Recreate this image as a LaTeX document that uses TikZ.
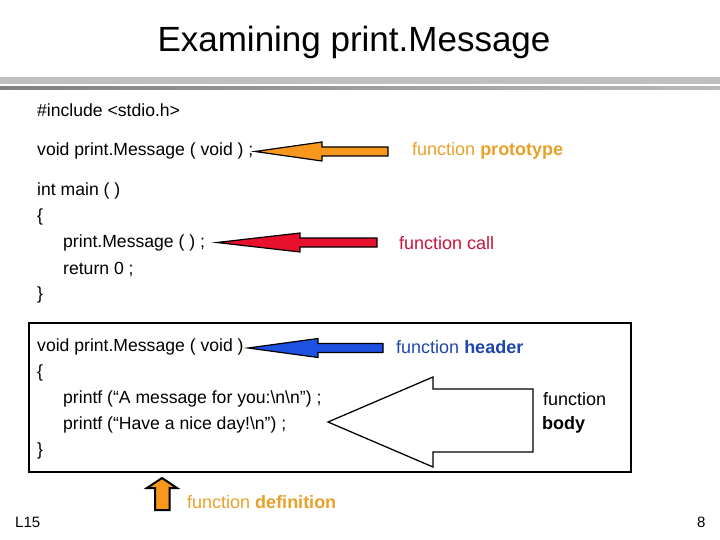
\documentclass[tikz,border=0pt]{standalone}
\usepackage{fontspec}
\setmainfont{Liberation Sans}
\definecolor{protoorange}{RGB}{247,152,29}
\definecolor{prototext}{RGB}{232,160,40}
\definecolor{callred}{RGB}{232,17,45}
\definecolor{calltext}{RGB}{200,20,60}
\definecolor{headblue}{RGB}{30,80,225}
\definecolor{headtext}{RGB}{30,70,170}
\tikzset{
	code/.style={anchor=west, inner sep=0pt, font=\fontsize{17.6}{21}\selectfont},
	note/.style={anchor=west, inner sep=0pt, font=\fontsize{18}{21}\selectfont},
	small/.style={anchor=west, inner sep=0pt, font=\fontsize{15}{18}\selectfont},
}
\begin{document}
\begin{tikzpicture}[x=1pt,y=-1pt]
		\useasboundingbox (0,0) rectangle (720,540);
		\node[anchor=center, inner sep=0pt, font=\fontsize{35}{42}\selectfont] (title) at (354,42) {Examining print.Message};
		\shade[left color=gray!50, middle color=gray!15, right color=gray!50] (0,78) rectangle (720,84);
		\shade[left color=gray!100, middle color=gray!30, right color=gray!55] (0,87) rectangle (720,90);
		
		% code lines
		\foreach \y/\x/\t [count=\i] in {110/37/{\#include <stdio.h>},
			151/37/{void print.Message ( void ) ;},
			191/37/{int main ( )}, 217/37/{\{}, 243/63/{print.Message ( ) ;},
			269/63/{return 0 ;}, 295/37/{\}},
			347/37/{void print.Message ( void )}, 373/37/{\{},
			399/63/{printf (“A message for you:\textbackslash n\textbackslash n”) ;},
			425/63/{printf (“Have a nice day!\textbackslash n”) ;}, 451/37/{\}}}{
			\node[code] (line\i) at (\x,\y) {\t};
		}
		\draw[line width=2pt] (29,323) rectangle (631,472);
		
		% labels
		\node[note, text=prototext] (proto) at (412,151) {function \textbf{prototype}};
		\node[note, text=calltext] (call) at (399,243) {function call};
		\node[note, text=headtext] (header) at (396,347) {function \textbf{header}};
		\node[note] (body1) at (543,399) {function};
		\node[note] (body2) at (542,425) {\textbf{body}};
		\node[note, text=prototext] (defn) at (187,502) {function \textbf{definition}};
		\node[small] (lec) at (15,522) {L15};
		\node[small] (page) at (697,522) {8};
		
		% block arrows: tip/head base/tail/y/colour
		\foreach \tip/\hb/\tl/\y/\c in {255/322/388/151.5/protoorange, 217/300/377/242.5/callred, 248/318/383/348/headblue}{
			\draw[fill=\c, line width=1.2pt, line join=miter] (\tip,\y) -- (\hb,\y-9.5) -- (\hb,\y-4.5) -- (\tl,\y-4.5) -- (\tl,\y+4.5) -- (\hb,\y+4.5) -- (\hb,\y+9.5) -- cycle;
		}
		\draw[line width=1.3pt] (328,422) -- (433,377) -- (433,389) -- (533,389) -- (533,452) -- (433,452) -- (433,467) -- cycle;
		\draw[fill=protoorange, line width=2pt] (162,478) -- (177,488) -- (169.5,488) -- (169.5,510) -- (155,510) -- (155,488) -- (147,488) -- cycle;
		\end{tikzpicture}
\end{document}
